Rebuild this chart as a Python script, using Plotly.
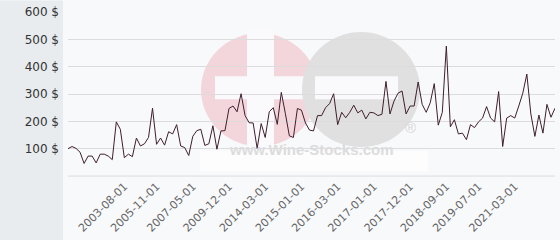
import plotly.graph_objects as go

# ---- data ----
prices = [100, 108, 101, 87, 46, 73, 73, 48, 80, 80, 73, 60, 198, 171, 67, 80, 71, 139, 110, 118,
          141, 248, 116, 139, 113, 162, 154, 188, 110, 104, 75, 145, 166, 171, 112, 118, 184, 98, 165, 166,
          247, 256, 235, 301, 221, 195, 194, 101, 192, 141, 235, 250, 189, 306, 229, 147, 141, 247, 241, 194,
          168, 165, 221, 221, 250, 265, 301, 188, 233, 213, 233, 259, 231, 241, 209, 233, 231, 221, 226, 346,
          227, 274, 303, 311, 227, 256, 256, 344, 262, 233, 268, 338, 186, 233, 475, 180, 206, 154, 157, 133,
          188, 177, 198, 212, 254, 212, 198, 309, 108, 212, 221, 212, 256, 303, 373, 227, 145, 223, 157, 262,
          215, 248]
tick_index = [14, 22, 31, 40, 49, 58, 67, 76, 85, 94, 102, 111]
tick_labels = ["2003-08-01", "2005-11-01", "2007-05-01", "2009-12-01", "2014-03-01", "2015-01-01",
               "2016-03-01", "2017-01-01", "2017-12-01", "2018-09-01", "2019-07-01", "2021-03-01"]
y_ticks = [0, 100, 200, 300, 400, 500, 600]
y_labels = ["", "100 $", "200 $", "300 $", "400 $", "500 $", "600 $"]

idx = list(range(len(prices)))

fig = go.Figure()
fig.add_trace(go.Scatter(x=idx, y=prices, mode="lines",
                         line=dict(color="#3f1e2b", width=1), hoverinfo="skip"))

W, H = 560, 240
L, R, T, B = 68, 5, 6, 61
pw, ph = W - L - R, H - T - B

def px(x):
    return (x - L) / pw

def py(y):
    return (H - B - y) / ph

shapes = [
    # left grey panel
    dict(type="rect", xref="paper", yref="paper", x0=px(-5), x1=px(63), y0=py(245), y1=py(-5),
         fillcolor="#e8ecef", line_width=0, layer="below"),
    # watermark: pink circle with white plus
    dict(type="circle", xref="paper", yref="paper", x0=px(201), x1=px(318), y0=py(147), y1=py(29),
         fillcolor="#f2d6dc", line_width=0, layer="below"),
    dict(type="rect", xref="paper", yref="paper", x0=px(247), x1=px(274), y0=py(150), y1=py(25),
         fillcolor="#fafafc", line_width=0, layer="below"),
    dict(type="rect", xref="paper", yref="paper", x0=px(215), x1=px(308), y0=py(98), y1=py(74),
         fillcolor="#fafafc", line_width=0, layer="below"),
    # grey circle with white minus
    dict(type="circle", xref="paper", yref="paper", x0=px(302), x1=px(420), y0=py(148), y1=py(28),
         fillcolor="#e0e0e0", line_width=0, layer="below"),
    dict(type="rect", xref="paper", yref="paper", x0=px(315), x1=px(398), y0=py(98), y1=py(74),
         fillcolor="#fafafc", line_width=0, layer="below"),
    # white band behind url
    dict(type="rect", xref="paper", yref="paper", x0=px(200), x1=px(428), y0=py(173), y1=py(152),
         fillcolor="#fdfdfe", line_width=0, layer="below"),
    # baseline grid line at 0
    dict(type="line", xref="paper", yref="y", x0=0, x1=1, y0=0, y1=0,
         line=dict(color="#dcdcdc", width=1), layer="below"),
]

annotations = [
    dict(text="<b>www.Wine-Stocks.com</b>", xref="paper", yref="paper", x=px(311), y=py(161),
         showarrow=False, font=dict(family="Liberation Sans, Arial", size=15, color="#dcdcdc")),
    dict(text="®", xref="paper", yref="paper", x=px(418), y=py(138),
         showarrow=False, font=dict(family="Liberation Sans, Arial", size=15, color="#d6d6d6")),
]

fig.update_layout(
    width=W, height=H,
    margin=dict(l=L, r=R, t=T, b=B, pad=0),
    paper_bgcolor="#f8f9fb",
    plot_bgcolor="rgba(0,0,0,0)",
    showlegend=False,
    shapes=shapes,
    annotations=annotations,
    xaxis=dict(range=[0, len(prices) - 1], tickmode="array", tickvals=tick_index, ticktext=tick_labels,
               tickangle=-45, showgrid=False, zeroline=False, showline=False, ticks="",
               tickfont=dict(family="DejaVu Sans", size=11, color="#666666"), fixedrange=True),
    yaxis=dict(range=[-3.5, 603.5], tickmode="array", tickvals=y_ticks, ticktext=y_labels,
               showgrid=True, gridcolor="#dcdcdc", gridwidth=1,
               zeroline=False,
               showline=False, ticks="", ticklabelstandoff=8,
               tickfont=dict(family="DejaVu Sans", size=12, color="#333333"), fixedrange=True),
)

fig.write_html("out.html")
